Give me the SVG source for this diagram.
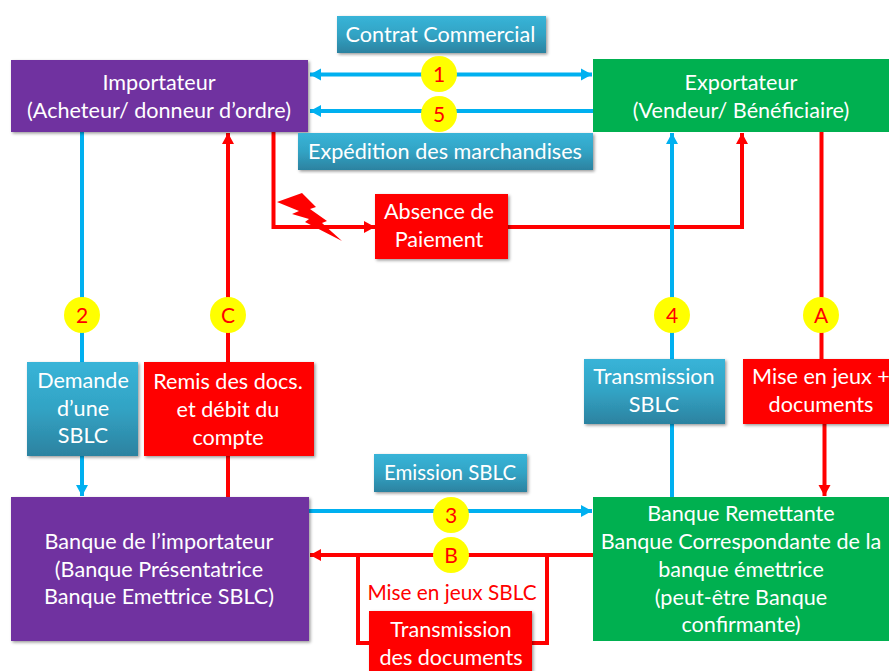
<svg xmlns="http://www.w3.org/2000/svg" width="889" height="671" viewBox="0 0 889 671">
<style>
text{font-family:Lato,"Liberation Sans",sans-serif;font-size:21.6px;fill:#fff;text-anchor:middle}
.b{fill:none;stroke:#00b0f0;stroke-width:4}
.r{fill:none;stroke:#f00;stroke-width:4}
.t{fill:url(#teal);filter:url(#sh)}
.red{fill:#f00;filter:url(#sh)}
.pur{fill:#7030a0;filter:url(#sh)}
.gr{fill:#00b050}
.c{fill:#ff0}
text.n{fill:#f00;font-size:21px}
text.l{fill:#f00;font-size:20.8px}
text.e{font-size:20.5px}
</style>
<defs>
<linearGradient id="teal" x1="0" y1="0" x2="0" y2="1"><stop offset="0" stop-color="#38b4d8"/><stop offset=".5" stop-color="#32a3c4"/><stop offset="1" stop-color="#2c82a0"/></linearGradient>
<filter id="sh" x="-5%" y="-5%" width="112%" height="115%"><feDropShadow dx="1.5" dy="1.5" stdDeviation="1.5" flood-color="#000" flood-opacity=".4"/></filter>
<marker id="ab" markerUnits="userSpaceOnUse" markerWidth="12" markerHeight="14" refX="11" refY="6" orient="auto-start-reverse" viewBox="0 0 12 12"><path d="M0 0L11 6L0 12z" fill="#00b0f0"/></marker>
<marker id="ar" markerUnits="userSpaceOnUse" markerWidth="12" markerHeight="14" refX="11" refY="6" orient="auto-start-reverse" viewBox="0 0 12 12"><path d="M0 0L11 6L0 12z" fill="#f00"/></marker>
</defs>
<rect width="889" height="671" fill="#fff"/>
<g id="connectors">
<path class="b" d="M310 74.500H592" marker-start="url(#ab)" marker-end="url(#ab)"/>
<path class="b" d="M593 111H310" marker-end="url(#ab)"/>
<path class="b" d="M82 132V496" marker-end="url(#ab)"/>
<path class="r" d="M228 497V133" marker-end="url(#ar)"/>
<path class="r" d="M273.500 132V227H375" marker-end="url(#ar)"/>
<path class="r" d="M508 227H742V133" marker-end="url(#ar)"/>
<path class="b" d="M672 497V133" marker-end="url(#ab)"/>
<path class="r" d="M821.500 132V360"/>
<path class="r" d="M824.500 424V496" marker-end="url(#ar)"/>
<path class="b" d="M309 511H592" marker-end="url(#ab)"/>
<path class="r" d="M593 555H310" marker-end="url(#ar)"/>
<path class="r" d="M358 555V643H370M547 555V643H532"/>
</g>
<g id="bolt"><path d="M277 202L302 193L316 207L310 209L327 221L322 223L342 241L305 222L309 219L292 214L299 211z" fill="#f00"/></g>
<g id="importateur"><rect class="pur" x="11" y="60" width="297" height="72"/><text x="159" y="90">Importateur</text><text x="159" y="118">(Acheteur/ donneur d’ordre)</text></g>
<g id="exportateur"><rect class="gr" x="593" y="59" width="296" height="73"/><text x="741" y="90">Exportateur</text><text x="741" y="118">(Vendeur/ Bénéficiaire)</text></g>
<g id="contrat"><rect class="t" x="337" y="16" width="209" height="37"/><text x="440.500" y="42">Contrat Commercial</text></g>
<g id="expedition"><rect class="t" x="298" y="133" width="295" height="37"/><text x="445" y="159">Expédition des marchandises</text></g>
<g id="absence"><rect class="red" x="375" y="194" width="133" height="65"/><text x="439" y="219">Absence de</text><text x="439" y="247">Paiement</text></g>
<g id="demande"><rect class="t" x="27" y="362" width="111" height="94"/><text x="83" y="388">Demande</text><text x="83" y="416">d’une</text><text x="83" y="443">SBLC</text></g>
<g id="remis"><rect class="red" x="144" y="362" width="170" height="94"/><text x="228" y="389">Remis des docs.</text><text x="228" y="417">et débit du</text><text x="228" y="445">compte</text></g>
<g id="transmission-sblc"><rect class="t" x="584" y="359" width="141" height="65"/><text x="654" y="384">Transmission</text><text x="654" y="412">SBLC</text></g>
<g id="mise-en-jeux"><rect class="red" x="743" y="359" width="146" height="65"/><text x="821" y="384">Mise en jeux +</text><text x="821" y="412">documents</text></g>
<g id="emission"><rect class="t" x="374" y="454" width="153" height="38"/><text class="e" x="450" y="480">Emission SBLC</text></g>
<g id="banque-importateur"><rect class="pur" x="11" y="497" width="298" height="144"/><text x="159" y="549">Banque de l’importateur</text><text x="159" y="577">(Banque Présentatrice</text><text x="159" y="604">Banque Emettrice SBLC)</text></g>
<g id="banque-remettante"><rect class="gr" x="593" y="497" width="296" height="144"/><text x="741" y="521">Banque Remettante</text><text x="741" y="549">Banque Correspondante de la</text><text x="741" y="577">banque émettrice</text><text x="741" y="605">(peut-être Banque</text><text x="741" y="632">confirmante)</text></g>
<g id="mise-sblc"><text class="l" x="452" y="600">Mise en jeux SBLC</text></g>
<g id="transmission-docs"><rect class="red" x="369" y="611" width="163" height="60"/><text x="451" y="637">Transmission</text><text x="451" y="665">des documents</text></g>
<g id="badge-1"><circle class="c" cx="439" cy="74" r="18"/><text class="n" x="439" y="82">1</text></g>
<g id="badge-5"><circle class="c" cx="439" cy="114" r="18"/><text class="n" x="439" y="122">5</text></g>
<g id="badge-2"><circle class="c" cx="82" cy="315" r="18"/><text class="n" x="82" y="323">2</text></g>
<g id="badge-c"><circle class="c" cx="228" cy="315" r="18"/><text class="n" x="228" y="323">C</text></g>
<g id="badge-4"><circle class="c" cx="672" cy="315" r="18"/><text class="n" x="672" y="323">4</text></g>
<g id="badge-a"><circle class="c" cx="821" cy="315" r="18"/><text class="n" x="821" y="323">A</text></g>
<g id="badge-3"><circle class="c" cx="451" cy="515" r="18"/><text class="n" x="451" y="523">3</text></g>
<g id="badge-b"><circle class="c" cx="451" cy="555" r="18"/><text class="n" x="451" y="563">B</text></g>
</svg>
